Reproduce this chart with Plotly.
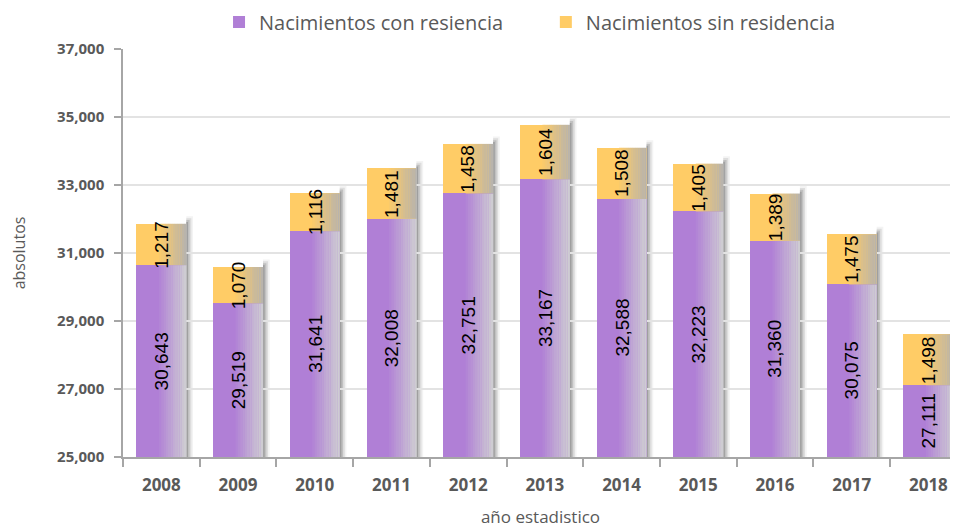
import plotly.graph_objects as go

years = ["2008", "2009", "2010", "2011", "2012", "2013", "2014", "2015", "2016", "2017", "2018"]
con_residencia = [30643, 29519, 31641, 32008, 32751, 33167, 32588, 32223, 31360, 30075, 27111]
sin_residencia = [1217, 1070, 1116, 1481, 1458, 1604, 1508, 1405, 1389, 1475, 1498]
y_ticks = [25000, 27000, 29000, 31000, 33000, 35000, 37000]

Y_MIN, Y_MAX = 25000, 37000
BAR_W = 0.65
PURPLE = (176, 127, 214)
ORANGE = (255, 204, 102)
PURPLE_END = (206, 204, 210)
ORANGE_END = (185, 180, 172)
GRAY = "#595959"

fig = go.Figure()
fig.add_trace(go.Bar(x=years, y=con_residencia, name="Nacimientos con resiencia",
                     marker=dict(color="rgb(%d,%d,%d)" % PURPLE, line=dict(width=0)),
                     width=BAR_W, legend="legend"))
fig.add_trace(go.Bar(x=years, y=sin_residencia, name="Nacimientos sin residencia",
                     marker=dict(color="rgb(%d,%d,%d)" % ORANGE, line=dict(width=0)),
                     width=BAR_W, legend="legend2"))

shapes = []
annotations = []


def mix(c1, c2, t):
    return "rgb(%d,%d,%d)" % tuple(round(a + (b - a) * t) for a, b in zip(c1, c2))


N = 12
for i, (c, s) in enumerate(zip(con_residencia, sin_residencia)):
    left = i - BAR_W / 2
    right = i + BAR_W / 2
    top = c + s
    for k, op in enumerate([0.32, 0.22, 0.14, 0.07]):
        d = 0.022 * (k + 1)
        shapes.append(dict(type="rect", xref="x", yref="y", layer="below",
                           x0=right, x1=right + d, y0=Y_MIN, y1=top + 55 * (k + 1),
                           fillcolor="rgba(90,90,90,%.2f)" % op, line=dict(width=0)))
    for seg_lo, seg_hi, base, end in [(Y_MIN, c, PURPLE, PURPLE_END), (c, top, ORANGE, ORANGE_END)]:
        x_start = left + BAR_W * 0.45
        sw = (right - x_start) / N
        for k in range(N):
            t = (k + 1) / N
            shapes.append(dict(type="rect", xref="x", yref="y", layer="above",
                               x0=x_start + k * sw, x1=x_start + (k + 1) * sw + 0.002,
                               y0=seg_lo, y1=seg_hi,
                               fillcolor=mix(base, end, t), line=dict(width=0)))
    annotations.append(dict(x=i, y=(Y_MIN + c) / 2, xref="x", yref="y", text=f"{c:,}",
                            textangle=-90, showarrow=False,
                            font=dict(family="Liberation Sans, Arial", size=19, color="black")))
    annotations.append(dict(x=i, y=c + s / 2, xref="x", yref="y", text=f"{s:,}",
                            textangle=-90, showarrow=False,
                            font=dict(family="Liberation Sans, Arial", size=19, color="black")))

legend_common = dict(orientation="h", xanchor="left", y=1.0662, yanchor="middle",
                     font=dict(size=20, color=GRAY), itemwidth=30,
                     bgcolor="rgba(0,0,0,0)")

fig.update_layout(
    barmode="stack",
    width=950, height=522,
    margin=dict(l=115, r=0, t=41, b=73, autoexpand=False),
    paper_bgcolor="white", plot_bgcolor="white",
    font=dict(family="Open Sans", color=GRAY),
    shapes=shapes,
    annotations=annotations,
    legend=dict(x=0.115, **legend_common),
    legend2=dict(x=0.5064, **legend_common),
    showlegend=True,
)
fig.update_xaxes(
    type="category", range=[-0.5, 10.386], automargin=False,
    tickfont=dict(size=17, color=GRAY, family="Open Sans"),
    tickprefix="<b>", ticksuffix="</b>",
    ticks="outside", tickson="boundaries", ticklen=8, tickcolor="#A6A6A6", tickwidth=1.5,
    ticklabelstandoff=12,
    showline=True, linecolor="#A6A6A6", linewidth=1.5,
    showgrid=False,
    title=dict(text="año estadistico", font=dict(size=17, color=GRAY), standoff=16),
)
fig.update_yaxes(
    range=[Y_MIN, Y_MAX], tickvals=y_ticks, ticktext=[f"<b>{v:,}</b>" for v in y_ticks],
    automargin=False,
    tickfont=dict(size=15, color=GRAY, family="Open Sans"),
    ticks="outside", ticklen=7, tickcolor="#A6A6A6", tickwidth=1.5,
    ticklabelstandoff=7,
    showline=True, linecolor="#A6A6A6", linewidth=1.5,
    showgrid=True, gridcolor="#E3E3E3", gridwidth=1.5,
    zeroline=False,
    title=dict(text="absolutos", font=dict(size=16, color=GRAY), standoff=30),
)

fig.write_html("out.html")
